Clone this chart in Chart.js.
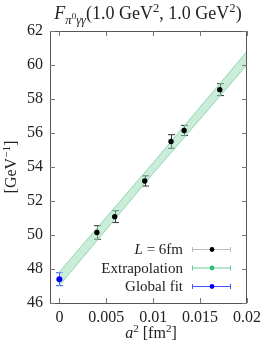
<!DOCTYPE html>
<html>
<head>
<meta charset="utf-8">
<script src="https://cdn.jsdelivr.net/npm/chart.js@4.4.0/dist/chart.umd.min.js"></script>
<style>
html, body { margin: 0; padding: 0; background: #fff; }
#wrap { width: 266px; height: 344px; position: relative; }
</style>
</head>
<body>
<div id="wrap"><canvas id="myChart"></canvas></div>
<script>
// lattice points, L = 6fm
const a2 = [0.0040, 0.0059, 0.0091, 0.0119, 0.0133, 0.0171];
const f6fm = [50.15, 51.08, 53.18, 55.50, 56.15, 58.55];
const f6fmErr = [0.40, 0.35, 0.30, 0.40, 0.30, 0.35];
// global fit at the continuum
const fitA2 = [0];
const fitVal = [47.40];
const fitErr = [0.38];
// extrapolation band (edges read at a few a^2)
const bandA2 = [0, 0.01, 0.02];
const bandHi = [47.83, 54.25, 60.80];
const bandLo = [47.03, 53.63, 60.02];
const xTicks = [0, 0.005, 0.01, 0.015, 0.02];
const yTicks = [46, 48, 50, 52, 54, 56, 58, 60, 62];

const serif = '"Liberation Serif", "DejaVu Serif", serif';

function fontOf(p, size) {
    return (p.i ? 'italic ' : '') + (size * (p.s || 1)).toFixed(1) + 'px ' + serif;
}
function drawRich(ctx, parts, x, y, size, align) {
    const w = parts.map(p => { ctx.font = fontOf(p, size); return ctx.measureText(p.t).width; });
    const total = w.reduce((a, b) => a + b, 0);
    let cx = align === 'center' ? x - total / 2 : (align === 'right' ? x - total : x);
    ctx.textAlign = 'left';
    ctx.textBaseline = 'alphabetic';
    parts.forEach((p, i) => {
        ctx.font = fontOf(p, size);
        ctx.fillText(p.t, cx, y + (p.dy || 0) * size);
        cx += w[i];
    });
}

const titleParts = [
    { t: 'F', i: 1 }, { t: 'π', i: 1, s: 0.7, dy: 0.25 }, { t: '0', s: 0.5, dy: 0.02 },
    { t: 'γγ', i: 1, s: 0.7, dy: 0.25 }, { t: '(1.0 GeV' }, { t: '2', s: 0.7, dy: -0.38 },
    { t: ', 1.0 GeV' }, { t: '2', s: 0.7, dy: -0.38 }, { t: ')' }
];
const xTitleParts = [{ t: 'a', i: 1 }, { t: '2', s: 0.7, dy: -0.38 }, { t: ' [fm' }, { t: '2', s: 0.7, dy: -0.38 }, { t: ']' }];
const yTitleParts = [{ t: '[GeV' }, { t: '−1', s: 0.7, dy: -0.38 }, { t: ']' }];
const legendNames = [
    [{ t: 'L', i: 1 }, { t: ' = 6fm' }],
    [{ t: 'Extrapolation' }],
    [{ t: 'Global fit' }]
];

const decor = {
    id: 'decor',
    beforeDatasetsDraw(chart) {
        const ctx = chart.ctx, xs = chart.scales.x, ys = chart.scales.y;
        function bars(xv, yv, ev, col) {
            ctx.save();
            ctx.strokeStyle = col;
            ctx.lineWidth = 1;
            xv.forEach((x, i) => {
                const px = Math.round(xs.getPixelForValue(x)) + 0.5;
                const t = ys.getPixelForValue(yv[i] + ev[i]);
                const b = ys.getPixelForValue(yv[i] - ev[i]);
                ctx.beginPath();
                ctx.moveTo(px, t); ctx.lineTo(px, b);
                ctx.moveTo(px - 3.5, t); ctx.lineTo(px + 3.5, t);
                ctx.moveTo(px - 3.5, b); ctx.lineTo(px + 3.5, b);
                ctx.stroke();
            });
            ctx.restore();
        }
        bars(a2, f6fm, f6fmErr, '#333');
        bars(fitA2, fitVal, fitErr, '#3355ff');
    },
    afterDraw(chart) {
        const ctx = chart.ctx, a = chart.chartArea, xs = chart.scales.x, ys = chart.scales.y;
        ctx.save();
        // frame
        ctx.strokeStyle = '#555';
        ctx.lineWidth = 1;
        ctx.strokeRect(Math.round(a.left) + 0.5, Math.round(a.top) + 0.5, Math.round(a.right - a.left) - 1, Math.round(a.bottom - a.top));
        // inward ticks on all sides
        ctx.strokeStyle = '#777';
        ctx.beginPath();
        xTicks.forEach(v => {
            const px = Math.round(xs.getPixelForValue(v)) + 0.5;
            ctx.moveTo(px, a.bottom); ctx.lineTo(px, a.bottom - 5);
            ctx.moveTo(px, a.top); ctx.lineTo(px, a.top + 5);
        });
        yTicks.forEach(v => {
            const py = Math.round(ys.getPixelForValue(v)) + 0.5;
            ctx.moveTo(a.left, py); ctx.lineTo(a.left + 5, py);
            ctx.moveTo(a.right, py); ctx.lineTo(a.right - 5, py);
        });
        ctx.stroke();

        ctx.fillStyle = '#222';
        drawRich(ctx, titleParts, 148, 19, 18, 'center');
        drawRich(ctx, xTitleParts, 151, 338, 16, 'center');
        ctx.save();
        ctx.translate(16, 167);
        ctx.rotate(-Math.PI / 2);
        drawRich(ctx, yTitleParts, 0, 0, 16, 'center');
        ctx.restore();

        // legend
        const rows = [249, 267.5, 286];
        const lineCol = ['#bbbbbb', '#66cc99', '#4455ff'];
        const dotCol = ['#000000', '#33bb77', '#0000ff'];
        legendNames.forEach((parts, i) => {
            const y = rows[i];
            ctx.fillStyle = '#222';
            drawRich(ctx, parts, 183, y + 5, 15, 'right');
            ctx.strokeStyle = lineCol[i];
            ctx.beginPath();
            ctx.moveTo(192, y + 0.5); ctx.lineTo(231, y + 0.5);
            ctx.moveTo(192.5, y - 2); ctx.lineTo(192.5, y + 3);
            ctx.moveTo(230.5, y - 2); ctx.lineTo(230.5, y + 3);
            ctx.stroke();
            ctx.fillStyle = dotCol[i];
            ctx.beginPath();
            ctx.arc(212, y + 0.5, 2.4, 0, Math.PI * 2);
            ctx.fill();
        });
        ctx.restore();
    }
};

const myChart = document.getElementById('myChart').getContext('2d');
const chart = new Chart(myChart, {
    type: 'scatter',
    data: {
        datasets: [{
            label: 'L = 6fm',
            data: a2.map((x, i) => ({ x: x, y: f6fm[i] })),
            backgroundColor: '#000',
            borderColor: '#000',
            borderWidth: 0,
            pointRadius: 2.7,
            order: 0
        }, {
            label: 'Global fit',
            data: fitA2.map((x, i) => ({ x: x, y: fitVal[i] })),
            backgroundColor: '#0000ff',
            borderColor: '#0000ff',
            borderWidth: 0,
            pointRadius: 3,
            order: 0
        }, {
            label: 'band lo',
            data: bandA2.map((x, i) => ({ x: x, y: bandLo[i] })),
            showLine: true,
            pointRadius: 0,
            borderColor: '#8fd6b0',
            borderWidth: 1,
            fill: false,
            order: 2
        }, {
            label: 'Extrapolation',
            data: bandA2.map((x, i) => ({ x: x, y: bandHi[i] })),
            showLine: true,
            pointRadius: 0,
            borderColor: '#8fd6b0',
            borderWidth: 1,
            backgroundColor: 'rgba(150, 220, 180, 0.5)',
            fill: '-1',
            order: 2
        }]
    },
    options: {
        responsive: true,
        maintainAspectRatio: false,
        animation: false,
        layout: { padding: { top: 31, right: 12, left: 0, bottom: 0 } },
        plugins: { legend: { display: false }, tooltip: { enabled: false } },
        scales: {
            x: {
                type: 'linear',
                min: -0.001,
                max: 0.02,
                afterBuildTicks: s => { s.ticks = xTicks.map(v => ({ value: v })); },
                afterFit: s => { s.height = 41; },
                grid: { display: false, drawTicks: false },
                border: { display: false },
                ticks: {
                    font: { family: serif, size: 16 },
                    color: '#222',
                    padding: 5,
                    maxRotation: 0,
                    autoSkip: false,
                    callback: v => String(v)
                }
            },
            y: {
                min: 46,
                max: 62,
                afterBuildTicks: s => { s.ticks = yTicks.map(v => ({ value: v })); },
                afterFit: s => { s.width = 50; },
                grid: { display: false, drawTicks: false },
                border: { display: false },
                ticks: {
                    font: { family: serif, size: 16 },
                    color: '#222',
                    padding: 7,
                    autoSkip: false
                }
            }
        }
    },
    plugins: [decor]
});
</script>
</body>
</html>
